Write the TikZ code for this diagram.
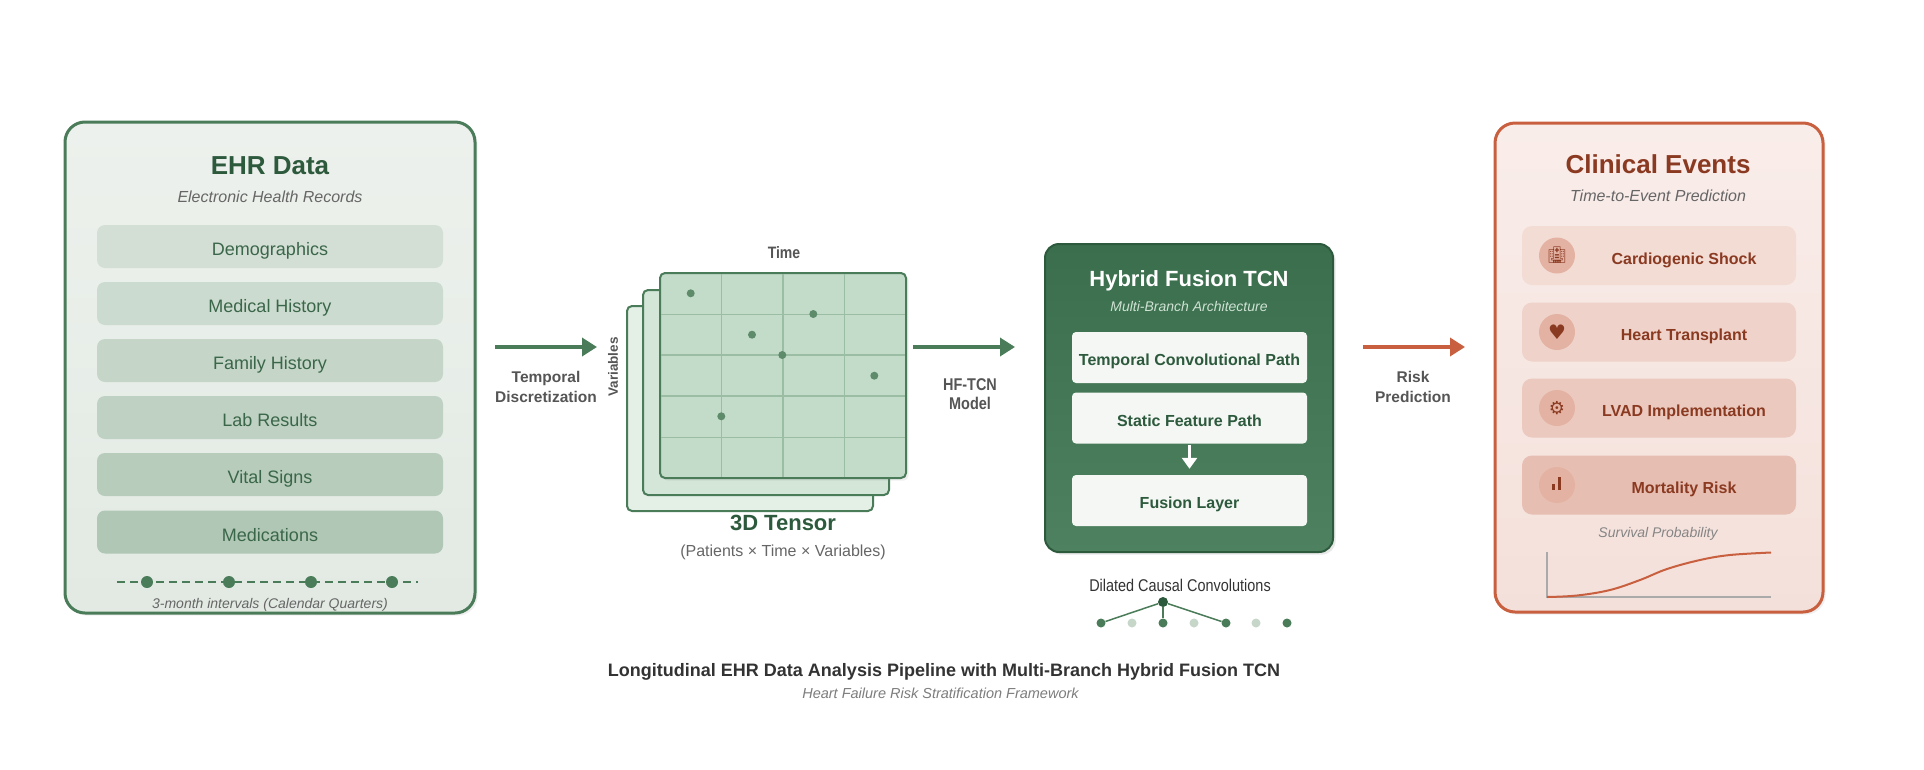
\documentclass[tikz,border=0pt]{standalone}
\usepackage{fontspec}
\setmainfont{Liberation Sans}
\newfontfamily\condsf[FakeStretch=0.85]{Liberation Sans}
\newfontfamily\symfont{DejaVu Sans}
\newfontfamily\emojifont{Noto Emoji}
\usepackage{xcolor}
\usetikzlibrary{shapes,arrows.meta,positioning,calc,shadows}

\definecolor{ehrgreen}{HTML}{4A7C59}
\definecolor{ehrdark}{HTML}{2D5A3D}
\definecolor{ehrtext}{HTML}{3A6649}
\definecolor{ehrtop}{HTML}{EDF1ED}
\definecolor{ehrbot}{HTML}{E2EAE3}
\definecolor{rowA}{HTML}{D3DFD5}
\definecolor{rowB}{HTML}{CCDBCF}
\definecolor{rowC}{HTML}{C5D6C8}
\definecolor{rowD}{HTML}{BED1C2}
\definecolor{rowE}{HTML}{B7CCBB}
\definecolor{rowF}{HTML}{B0C7B5}
\definecolor{layerA}{HTML}{E4EFE6}
\definecolor{layerB}{HTML}{D3E6D8}
\definecolor{layerC}{HTML}{C3DCCA}
\definecolor{gridgreen}{HTML}{9BBDA4}
\definecolor{dotgreen}{HTML}{5E8C6B}
\definecolor{tcntop}{HTML}{3A6E4C}
\definecolor{tcnbot}{HTML}{4E8160}
\definecolor{tcnsub}{HTML}{CFE2D4}
\definecolor{innerfill}{HTML}{F4F7F4}
\definecolor{lightdot}{HTML}{C6D7CA}
\definecolor{evred}{HTML}{C8603F}
\definecolor{evdark}{HTML}{8B3A22}
\definecolor{evtop}{HTML}{F9EDEA}
\definecolor{evbot}{HTML}{F4E0DA}
\definecolor{evrowA}{HTML}{F3DCD4}
\definecolor{evrowB}{HTML}{EFD3CA}
\definecolor{evrowC}{HTML}{EBC9BE}
\definecolor{evrowD}{HTML}{E7BFB2}
\definecolor{evicon}{HTML}{E3B2A3}
\definecolor{lblgray}{HTML}{555555}
\definecolor{subgray}{HTML}{666666}
\definecolor{axisgray}{HTML}{AAAAAA}
\definecolor{titlegray}{HTML}{333333}

\begin{document}
\begin{tikzpicture}[x=1pt, y=-1pt,
    panel/.style={rectangle, draw, line width=3pt, rounded corners=20pt, drop shadow={opacity=0.12}},
    ehrrow/.style={rectangle, rounded corners=8pt, minimum width=346pt, minimum height=43pt, text=ehrtext, font=\fontsize{18}{22}\selectfont, text height=18pt, text depth=0pt},
    evrow/.style={rectangle, rounded corners=10pt, minimum width=274pt, minimum height=59pt},
    evlabel/.style={anchor=base, text=evdark, font=\bfseries\fontsize{16}{20}\selectfont},
    icon/.style={circle, fill=evicon, minimum size=36pt, inner sep=0pt, text=evdark},
    layer/.style={rectangle, draw=ehrgreen, line width=2pt, rounded corners=5pt, minimum width=246pt, minimum height=205pt},
    gridln/.style={gridgreen, line width=1.2pt},
    tdot/.style={circle, fill=dotgreen, minimum size=8pt, inner sep=0pt},
    qdot/.style={circle, fill=ehrgreen, minimum size=12pt, inner sep=0pt},
    cdot/.style={circle, fill=ehrgreen, minimum size=9pt, inner sep=0pt},
    pathbox/.style={rectangle, fill=innerfill, rounded corners=4pt, minimum width=235pt, minimum height=51pt, text=ehrdark, font=\bfseries\fontsize{16}{20}\selectfont, text height=16pt, text depth=0pt},
    flowlbl/.style={text=lblgray, align=center, font=\bfseries\fontsize{15.5}{20}\selectfont},
    arrow/.style={-{Triangle[length=15pt,width=18pt]}, line width=3.5pt}
]
    \path[use as bounding box, fill=white] (0,0) rectangle (1924,769);

    % EHR 数据面板
    \node[panel, draw=ehrgreen, top color=ehrtop, bottom color=ehrbot, minimum width=410pt, minimum height=491pt] (ehr) at (270,367.5) {};
    \node[anchor=base, text=ehrdark, font=\bfseries\fontsize{26}{30}\selectfont] (ehrtitle) at (270,174) {EHR Data};
    \node[anchor=base, text=subgray, font=\itshape\fontsize{16}{20}\selectfont] (ehrsub) at (270,202) {Electronic Health Records};

    \node[ehrrow, fill=rowA] (demo) at (270,246.5) {Demographics};
    \node[ehrrow, fill=rowB] (medhist) at (270,303.5) {Medical History};
    \node[ehrrow, fill=rowC] (famhist) at (270,360.5) {Family History};
    \node[ehrrow, fill=rowD] (labs) at (270,417.5) {Lab Results};
    \node[ehrrow, fill=rowE] (vitals) at (270,474.5) {Vital Signs};
    \node[ehrrow, fill=rowF] (meds) at (270,532) {Medications};

    % 时间轴
    \coordinate (tlL) at (117,582);
    \coordinate (tlR) at (418,582);
    \draw[ehrgreen, line width=2pt, dash pattern=on 8pt off 5pt] (tlL) -- (tlR);
    \node[qdot] (q1) at (147,582) {};
    \node[qdot] (q2) at (229,582) {};
    \node[qdot] (q3) at (311,582) {};
    \node[qdot] (q4) at (392,582) {};
    \node[anchor=base, text=subgray, font=\itshape\fontsize{14}{17}\selectfont] (tllabel) at (270,608) {3-month intervals (Calendar Quarters)};

    % 箭头 1
    \coordinate (a1s) at (495,347);
    \coordinate (a1e) at (597,347);
    \draw[arrow, ehrgreen] (a1s) -- (a1e);
    \node[flowlbl] (disc) at (546,387) {Temporal\\Discretization};

    % 三维张量
    \node[layer, fill=layerA] (tback) at (750,408.5) {};
    \node[layer, fill=layerB] (tmid) at (766,392.5) {};
    \node[layer, fill=layerC, drop shadow={opacity=0.12}] (tfront) at (783,375.5) {};
    \draw[gridln] (721.5,274) -- (721.5,477);
    \draw[gridln] (783,274) -- (783,477);
    \draw[gridln] (844.5,274) -- (844.5,477);
    \draw[gridln] (661,314.3) -- (905,314.3);
    \draw[gridln] (661,355) -- (905,355);
    \draw[gridln] (661,396) -- (905,396);
    \draw[gridln] (661,437.3) -- (905,437.3);
    \node[tdot] (d1) at (690.7,293.3) {};
    \node[tdot] (d2) at (752,334.7) {};
    \node[tdot] (d3) at (813.3,314) {};
    \node[tdot] (d4) at (782.3,355) {};
    \node[tdot] (d5) at (874.3,375.7) {};
    \node[tdot] (d6) at (721.3,416.3) {};
    \node[anchor=base, text=lblgray, font=\condsf\bfseries\fontsize{16.5}{18}\selectfont] (timelbl) at (784,258) {Time};
    \node[rotate=90, text=lblgray, font=\bfseries\fontsize{13.5}{16}\selectfont] (varlbl) at (613,367) {Variables};
    \node[anchor=base, text=ehrdark, font=\bfseries\fontsize{22}{26}\selectfont] (tensor) at (783,530.5) {3D Tensor};
    \node[anchor=base, text=subgray, font=\fontsize{16}{19}\selectfont] (tensorsub) at (783,556.5) {(Patients × Time × Variables)};

    % 箭头 2
    \coordinate (a2s) at (913,347);
    \coordinate (a2e) at (1015,347);
    \draw[arrow, ehrgreen] (a2s) -- (a2e);
    \node[text=lblgray, align=center, font=\condsf\bfseries\fontsize{17}{19}\selectfont] (hflbl) at (970,394.5) {HF-TCN\\Model};

    % 混合融合 TCN
    \node[rectangle, rounded corners=14pt, draw=ehrdark, line width=2pt, top color=tcntop, bottom color=tcnbot, minimum width=288pt, minimum height=308pt, drop shadow={opacity=0.18}] (tcn) at (1189,398) {};
    \node[anchor=base, text=white, font=\bfseries\fontsize{22}{26}\selectfont] (tcntitle) at (1189,286) {Hybrid Fusion TCN};
    \node[anchor=base, text=tcnsub, font=\itshape\fontsize{14}{17}\selectfont] (tcnsub) at (1189,311.5) {Multi-Branch Architecture};
    \node[pathbox] (temporal) at (1189.5,357.5) {Temporal Convolutional Path};
    \node[pathbox] (static) at (1189.5,418) {Static Feature Path};
    \node[pathbox] (fusion) at (1189.5,500.5) {Fusion Layer};
    \draw[-{Triangle[length=11pt,width=15pt]}, white, line width=2.5pt, shorten >=6pt, shorten <=1pt] (static.south) -- (fusion.north);

    % 扩张因果卷积
    \node[anchor=base, text=titlegray, font=\condsf\fontsize{17}{20}\selectfont] (dilated) at (1180,591.5) {Dilated Causal Convolutions};
    \node[cdot, fill=ehrdark, minimum size=10pt] (ctop) at (1163,602) {};
    \node[cdot] (c1) at (1101,623) {};
    \node[cdot, fill=lightdot] (c2) at (1132,623) {};
    \node[cdot] (c3) at (1163,623) {};
    \node[cdot, fill=lightdot] (c4) at (1194,623) {};
    \node[cdot] (c5) at (1226,623) {};
    \node[cdot, fill=lightdot] (c6) at (1256,623) {};
    \node[cdot] (c7) at (1287,623) {};
    \draw[ehrgreen, line width=1.5pt] (ctop) -- (c1);
    \draw[ehrgreen, line width=1.5pt] (ctop) -- (c3);
    \draw[ehrgreen, line width=1.5pt] (ctop) -- (c5);

    % 箭头 3
    \coordinate (a3s) at (1363,347);
    \coordinate (a3e) at (1465,347);
    \draw[arrow, evred] (a3s) -- (a3e);
    \node[flowlbl] (risk) at (1413,387) {Risk\\Prediction};

    % 临床事件面板
    \node[panel, draw=evred, top color=evtop, bottom color=evbot, minimum width=328pt, minimum height=489pt] (events) at (1659,367.5) {};
    \node[anchor=base, text=evdark, font=\bfseries\fontsize{26}{30}\selectfont] (evtitle) at (1658,173) {Clinical Events};
    \node[anchor=base, text=subgray, font=\itshape\fontsize{16}{20}\selectfont] (evsub) at (1658,201.5) {Time-to-Event Prediction};

    \node[evrow, fill=evrowA] (shockrow) at (1659,255.5) {};
    \node[evrow, fill=evrowB] (heartrow) at (1659,332) {};
    \node[evrow, fill=evrowC] (lvadrow) at (1659,408) {};
    \node[evrow, fill=evrowD] (mortrow) at (1659,485) {};

    \node[icon] (ic1) at (1557,255.5) {\emojifont\fontsize{16}{16}\selectfont 🏥};
    \node[icon] (ic2) at (1557,332) {\symfont\fontsize{20}{20}\selectfont ♥};
    \node[icon] (ic3) at (1557,408) {\symfont\fontsize{18}{18}\selectfont ⚙};
    \node[icon] (ic4) at (1557,485) {};
    \fill[evdark] ($(ic4)+(-5,-1)$) rectangle ($(ic4)+(-2,5)$);
    \fill[evdark] ($(ic4)+(1,-8)$) rectangle ($(ic4)+(4,5)$);

    \node[evlabel] (shock) at (1684,264) {Cardiogenic Shock};
    \node[evlabel] (heart) at (1684,340.5) {Heart Transplant};
    \node[evlabel] (lvad) at (1684,416.5) {LVAD Implementation};
    \node[evlabel] (mort) at (1684,493) {Mortality Risk};

    % 生存曲线
    \node[anchor=base, text=subgray!80, font=\itshape\fontsize{14}{17}\selectfont] (survlbl) at (1658,537) {Survival Probability};
    \draw[axisgray, line width=1.2pt] (1547,552) -- (1547,597) -- (1771,597);
    \draw[evred, line width=2pt] plot[smooth, tension=0.6] coordinates {(1547,597) (1577,595.5) (1610,590) (1640,580) (1667,569) (1700,560) (1730,555) (1771,552.5)};

    % 标题
    \node[anchor=base, text=titlegray, font=\bfseries\fontsize{18}{22}\selectfont] (title) at (944,676) {Longitudinal EHR Data Analysis Pipeline with Multi-Branch Hybrid Fusion TCN};
    \node[anchor=base, text=subgray!85, font=\itshape\fontsize{14.5}{17}\selectfont] (subtitle) at (940.5,698) {Heart Failure Risk Stratification Framework};
\end{tikzpicture}
\end{document}
